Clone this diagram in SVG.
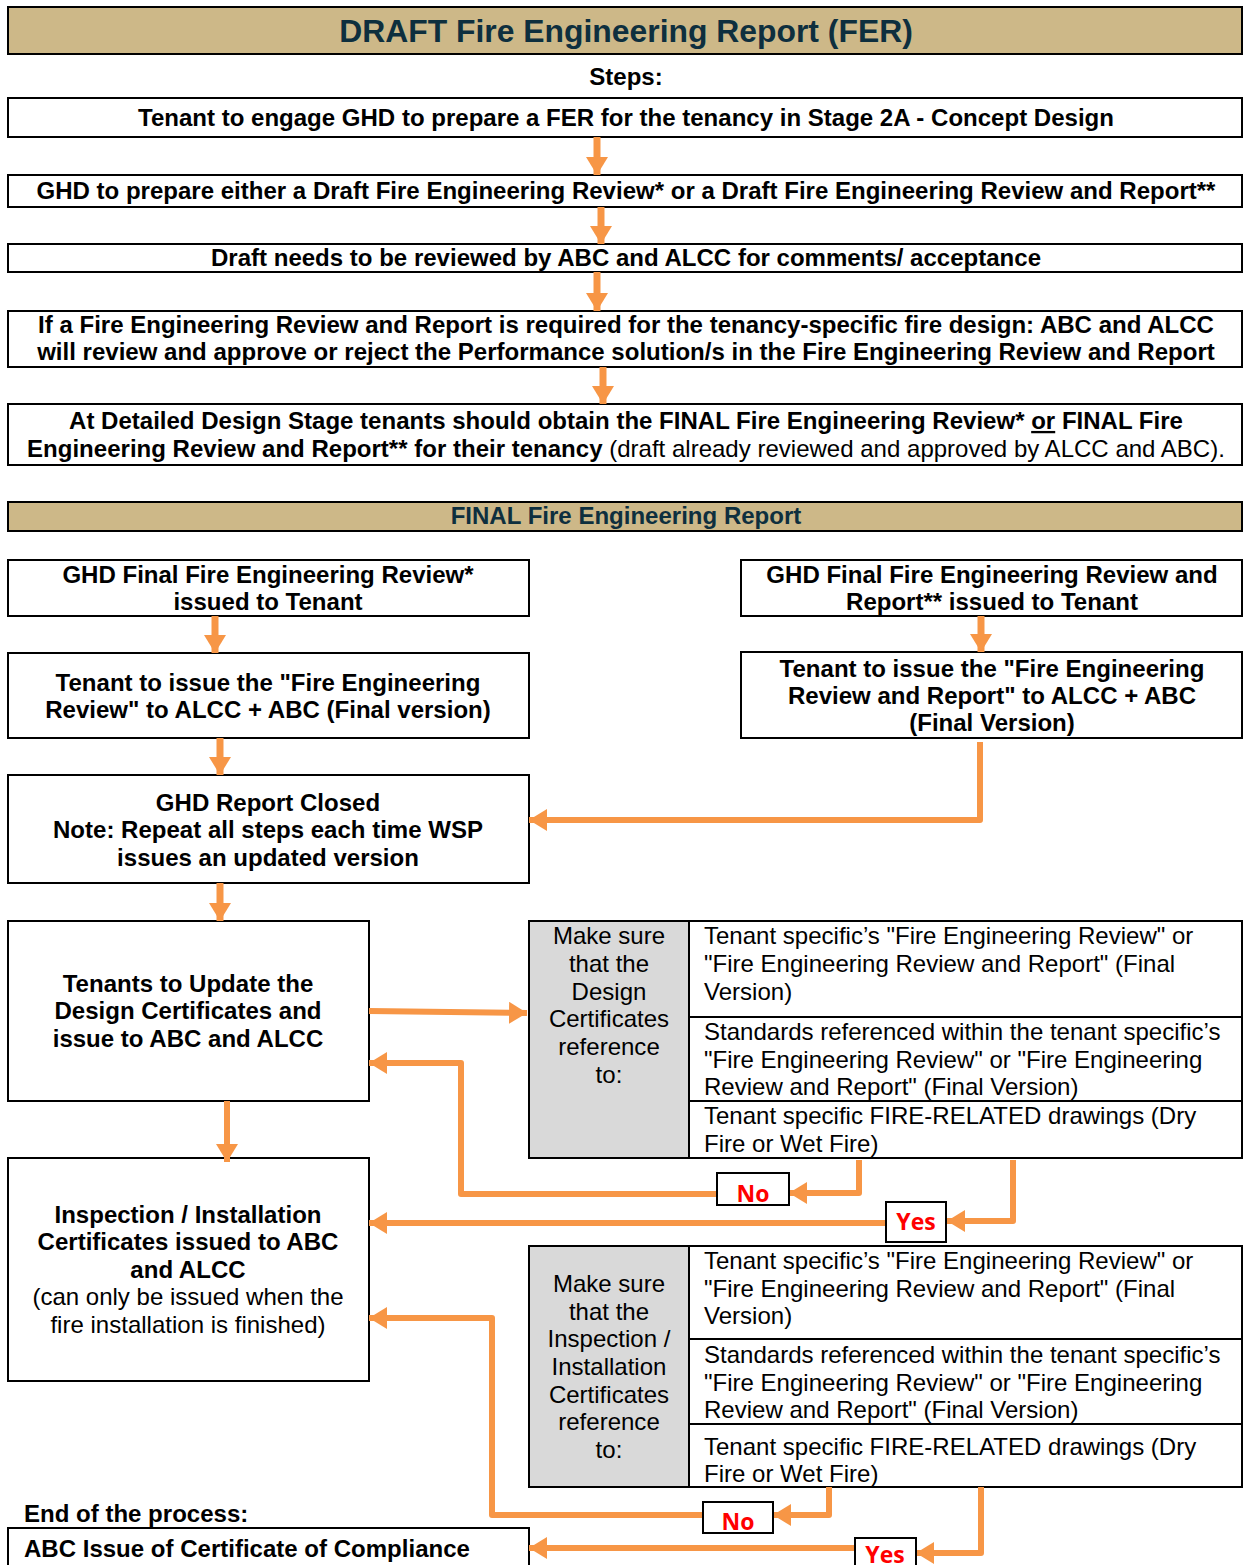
<svg xmlns="http://www.w3.org/2000/svg" width="1243" height="1565" viewBox="0 0 1243 1565">
<style>
text{font-family:"Liberation Sans",Arial,sans-serif;fill:#000}
.b{font-weight:bold;font-size:23px}
.n{font-size:23px}
.c{text-anchor:middle}
.box{fill:#fff;stroke:#000;stroke-width:2}
.bar{fill:#CDB888;stroke:#000;stroke-width:2}
.gray{fill:#D9D9D9;stroke:#000;stroke-width:2}
.ttl{font-weight:bold;fill:#0E2F3E}
.con{fill:none;stroke:#F79646;stroke-width:6;stroke-linejoin:round}
.sh{fill:none;stroke:#F79646;stroke-width:7}
.yn{font-family:"Open Sans","Liberation Sans",sans-serif;font-weight:bold;font-size:23px;fill:#FF0000;text-anchor:middle}
</style>
<defs>
<marker id="ah" markerUnits="userSpaceOnUse" markerWidth="20" markerHeight="22" refX="18" refY="11" orient="auto">
<path d="M0,0 L18,11 L0,22 z" fill="#F79646"/>
</marker>
</defs>
<g id="title">
<rect class="bar" x="8" y="7" width="1234" height="47"/>
<g transform="matrix(1.045 0 0 1 -28.17 0)"><text class="ttl c" x="626" y="42" font-size="30.5">DRAFT Fire Engineering Report (FER)</text></g>
</g>
<g id="steps-label"><g transform="matrix(1.045 0 0 1 -28.17 0)"><text class="b c" x="626" y="85">Steps:</text></g></g>
<g id="step1">
<rect class="box" x="8" y="98" width="1234" height="39"/>
<g transform="matrix(1.045 0 0 1 -28.17 0)"><text class="b c" x="626" y="126">Tenant to engage GHD to prepare a FER for the tenancy in Stage 2A - Concept Design</text></g>
</g>
<g id="step2">
<rect class="box" x="8" y="175" width="1234" height="32"/>
<g transform="matrix(1.045 0 0 1 -28.17 0)"><text class="b c" x="626" y="199">GHD to prepare either a Draft Fire Engineering Review* or a Draft Fire Engineering Review and Report**</text></g>
</g>
<g id="step3">
<rect class="box" x="8" y="244" width="1234" height="28"/>
<g transform="matrix(1.045 0 0 1 -28.17 0)"><text class="b c" x="626" y="266">Draft needs to be reviewed by ABC and ALCC for comments/ acceptance</text></g>
</g>
<g id="step4">
<rect class="box" x="8" y="311" width="1234" height="56"/>
<g transform="matrix(1.045 0 0 1 -28.17 0)">
<text class="b c" x="626" y="333">If a Fire Engineering Review and Report is required for the tenancy-specific fire design: ABC and ALCC</text>
<text class="b c" x="626" y="360">will review and approve or reject the Performance solution/s in the Fire Engineering Review and Report</text>
</g>
</g>
<g id="step5">
<rect class="box" x="8" y="404" width="1234" height="61"/>
<g transform="matrix(1.045 0 0 1 -28.17 0)">
<text class="b c" x="626" y="429">At Detailed Design Stage tenants should obtain the FINAL Fire Engineering Review* <tspan text-decoration="underline">or</tspan> FINAL Fire</text>
<text class="b c" x="626" y="457">Engineering Review and Report** for their tenancy<tspan font-weight="normal"> (draft already reviewed and approved by ALCC and ABC).</tspan></text>
</g>
</g>
<g id="final-bar">
<rect class="bar" x="8" y="502" width="1234" height="29"/>
<g transform="matrix(1.045 0 0 1 -28.17 0)"><text class="ttl c" x="626" y="524" font-size="23">FINAL Fire Engineering Report</text></g>
</g>
<g id="l1">
<rect class="box" x="8" y="560" width="521" height="56"/>
<g transform="matrix(1.045 0 0 1 -12.06 0)">
<text class="b c" x="268" y="583">GHD Final Fire Engineering Review*</text>
<text class="b c" x="268" y="610">issued to Tenant</text>
</g>
</g>
<g id="l2">
<rect class="box" x="8" y="653" width="521" height="85"/>
<g transform="matrix(1.045 0 0 1 -12.06 0)">
<text class="b c" x="268" y="691">Tenant to issue the "Fire Engineering</text>
<text class="b c" x="268" y="718">Review" to ALCC + ABC (Final version)</text>
</g>
</g>
<g id="l3">
<rect class="box" x="8" y="775" width="521" height="108"/>
<g transform="matrix(1.045 0 0 1 -12.06 0)">
<text class="b c" x="268" y="811">GHD Report Closed</text>
<text class="b c" x="268" y="838">Note: Repeat all steps each time WSP</text>
<text class="b c" x="268" y="866">issues an updated version</text>
</g>
</g>
<g id="r1">
<rect class="box" x="741" y="560" width="501" height="56"/>
<g transform="matrix(1.045 0 0 1 -44.64 0)">
<text class="b c" x="992" y="583">GHD Final Fire Engineering Review and</text>
<text class="b c" x="992" y="610">Report** issued to Tenant</text>
</g>
</g>
<g id="r2">
<rect class="box" x="741" y="652" width="501" height="86"/>
<g transform="matrix(1.045 0 0 1 -44.64 0)">
<text class="b c" x="992" y="677">Tenant to issue the "Fire Engineering</text>
<text class="b c" x="992" y="704">Review and Report" to ALCC + ABC</text>
<text class="b c" x="992" y="731">(Final Version)</text>
</g>
</g>
<g id="l4">
<rect class="box" x="8" y="921" width="361" height="180"/>
<g transform="matrix(1.045 0 0 1 -8.46 0)">
<text class="b c" x="188" y="992">Tenants to Update the</text>
<text class="b c" x="188" y="1019">Design Certificates and</text>
<text class="b c" x="188" y="1047">issue to ABC and ALCC</text>
</g>
</g>
<g id="l5">
<rect class="box" x="8" y="1158" width="361" height="223"/>
<g transform="matrix(1.045 0 0 1 -8.46 0)">
<text class="b c" x="188" y="1223">Inspection / Installation</text>
<text class="b c" x="188" y="1250">Certificates issued to ABC</text>
<text class="b c" x="188" y="1278">and ALCC</text>
<text class="n c" x="188" y="1305">(can only be issued when the</text>
<text class="n c" x="188" y="1333">fire installation is finished)</text>
</g>
</g>
<g id="table1">
<rect class="gray" x="529" y="921" width="160" height="237"/>
<rect class="box" x="689" y="921" width="553" height="96"/>
<rect class="box" x="689" y="1017" width="553" height="84"/>
<rect class="box" x="689" y="1101" width="553" height="57"/>
<g transform="matrix(1.045 0 0 1 -27.41 0)">
<text class="n c" x="609" y="944">Make sure</text>
<text class="n c" x="609" y="972">that the</text>
<text class="n c" x="609" y="1000">Design</text>
<text class="n c" x="609" y="1027">Certificates</text>
<text class="n c" x="609" y="1055">reference</text>
<text class="n c" x="609" y="1083">to:</text>
</g>
<g transform="matrix(1.045 0 0 1 -31.68 0)">
<text class="n" x="704" y="944">Tenant specific’s "Fire Engineering Review" or</text>
<text class="n" x="704" y="972">"Fire Engineering Review and Report" (Final</text>
<text class="n" x="704" y="1000">Version)</text>
<text class="n" x="704" y="1040">Standards referenced within the tenant specific’s</text>
<text class="n" x="704" y="1068">"Fire Engineering Review" or "Fire Engineering</text>
<text class="n" x="704" y="1095">Review and Report" (Final Version)</text>
<text class="n" x="704" y="1124">Tenant specific FIRE-RELATED drawings (Dry</text>
<text class="n" x="704" y="1152">Fire or Wet Fire)</text>
</g>
</g>
<g id="table2">
<rect class="gray" x="529" y="1246" width="160" height="241"/>
<rect class="box" x="689" y="1246" width="553" height="93"/>
<rect class="box" x="689" y="1339" width="553" height="85"/>
<rect class="box" x="689" y="1424" width="553" height="63"/>
<g transform="matrix(1.045 0 0 1 -27.41 0)">
<text class="n c" x="609" y="1292">Make sure</text>
<text class="n c" x="609" y="1320">that the</text>
<text class="n c" x="609" y="1347">Inspection /</text>
<text class="n c" x="609" y="1375">Installation</text>
<text class="n c" x="609" y="1403">Certificates</text>
<text class="n c" x="609" y="1430">reference</text>
<text class="n c" x="609" y="1458">to:</text>
</g>
<g transform="matrix(1.045 0 0 1 -31.68 0)">
<text class="n" x="704" y="1269">Tenant specific’s "Fire Engineering Review" or</text>
<text class="n" x="704" y="1297">"Fire Engineering Review and Report" (Final</text>
<text class="n" x="704" y="1324">Version)</text>
<text class="n" x="704" y="1363">Standards referenced within the tenant specific’s</text>
<text class="n" x="704" y="1391">"Fire Engineering Review" or "Fire Engineering</text>
<text class="n" x="704" y="1418">Review and Report" (Final Version)</text>
<text class="n" x="704" y="1455">Tenant specific FIRE-RELATED drawings (Dry</text>
<text class="n" x="704" y="1482">Fire or Wet Fire)</text>
</g>
</g>
<g id="end-label"><g transform="matrix(1.045 0 0 1 -1.08 0)"><text class="b" x="24" y="1522">End of the process:</text></g></g>
<g id="l6">
<rect class="box" x="8" y="1528" width="521" height="45"/>
<g transform="matrix(1.045 0 0 1 -1.08 0)"><text class="b" x="24" y="1557">ABC Issue of Certificate of Compliance</text></g>
</g>
<g id="connectors">
<path class="sh" d="M597,137 V175" marker-end="url(#ah)"/>
<path class="sh" d="M601,207 V244" marker-end="url(#ah)"/>
<path class="sh" d="M597,272 V311" marker-end="url(#ah)"/>
<path class="sh" d="M603,367 V404" marker-end="url(#ah)"/>
<path class="sh" d="M215,616 V653" marker-end="url(#ah)"/>
<path class="sh" d="M220,738 V775" marker-end="url(#ah)"/>
<path class="sh" d="M981,616 V652" marker-end="url(#ah)"/>
<path class="con" d="M980,742 V820 H529" marker-end="url(#ah)"/>
<path class="sh" d="M220,883 V921" marker-end="url(#ah)"/>
<path class="con" d="M369,1011 L527,1013" marker-end="url(#ah)"/>
<path class="con" d="M227,1101 V1162" marker-end="url(#ah)"/>
<path class="con" d="M859,1160 V1193 H789" marker-end="url(#ah)"/>
<path class="con" d="M717,1194 H461 V1063 H369" marker-end="url(#ah)"/>
<path class="con" d="M1013,1160 V1221 H947" marker-end="url(#ah)"/>
<path class="con" d="M886,1223 H369" marker-end="url(#ah)"/>
<path class="con" d="M829,1487 V1515 H773" marker-end="url(#ah)"/>
<path class="con" d="M703,1515 H492 V1318 H369" marker-end="url(#ah)"/>
<path class="con" d="M981,1487 V1553 H916" marker-end="url(#ah)"/>
<path class="con" d="M855,1548 H529" marker-end="url(#ah)"/>
</g>
<g id="no1"><rect class="box" x="717" y="1173" width="72" height="32"/><text class="yn" x="753" y="1202">No</text></g>
<g id="yes1"><rect class="box" x="886" y="1202" width="60" height="40"/><text class="yn" x="916" y="1230">Yes</text></g>
<g id="no2"><rect class="box" x="703" y="1502" width="70" height="31"/><text class="yn" x="738" y="1530">No</text></g>
<g id="yes2"><rect class="box" x="855" y="1538" width="61" height="40"/><text class="yn" x="885" y="1563">Yes</text></g>
</svg>
